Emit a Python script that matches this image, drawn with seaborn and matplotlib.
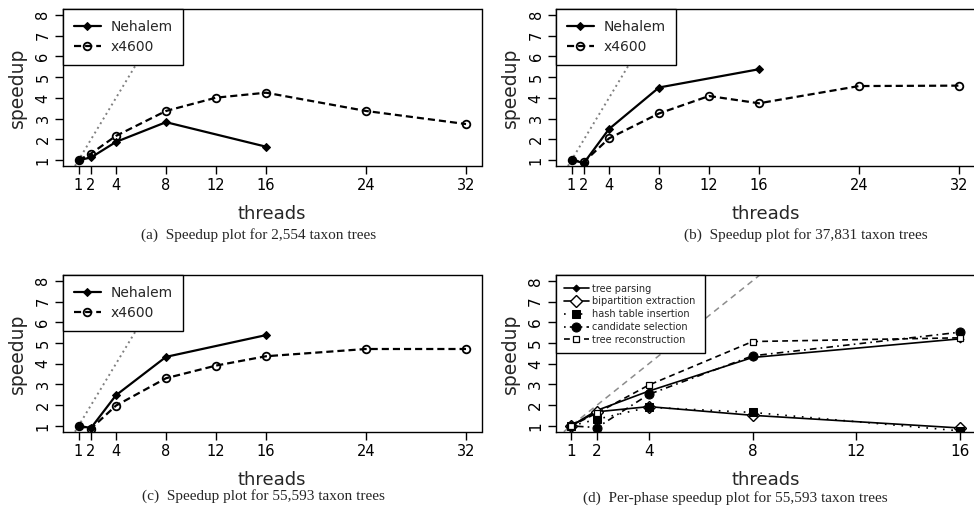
import matplotlib
matplotlib.use('Agg')
import matplotlib.pyplot as plt
import seaborn as sns

# thread counts
threads_nehalem = [1, 2, 4, 8, 16]
threads_x4600 = [1, 2, 4, 8, 12, 16, 24, 32]
xticks_32 = [1, 2, 4, 8, 12, 16, 24, 32]
xticks_16 = [1, 2, 4, 8, 12, 16]
yticks = [1, 2, 3, 4, 5, 6, 7, 8]

# speedups per data set
nehalem_2554 = [1.0, 1.13, 1.88, 2.83, 1.65]
x4600_2554 = [1.0, 1.32, 2.17, 3.37, 4.01, 4.25, 3.37, 2.74]
nehalem_37831 = [1.0, 0.87, 2.5, 4.5, 5.38]
x4600_37831 = [1.0, 0.92, 2.05, 3.25, 4.09, 3.74, 4.57, 4.59]
nehalem_55593 = [1.0, 0.9, 2.48, 4.33, 5.38]
x4600_55593 = [1.0, 0.87, 1.98, 3.3, 3.91, 4.36, 4.71, 4.71]

# per-phase speedups, 55,593 taxa
phase_threads = [1, 2, 4, 8, 16]
tree_parsing = [1.0, 1.75, 2.68, 4.3, 5.2]
bipartition = [1.0, 1.68, 1.93, 1.51, 0.9]
hash_insert = [1.0, 1.32, 1.9, 1.65, 0.76]
candidate = [1.0, 0.92, 2.52, 4.38, 5.52]
reconstruction = [1.0, 1.62, 2.97, 5.07, 5.25]

captions = [
    "(a)  Speedup plot for 2,554 taxon trees",
    "(b)  Speedup plot for 37,831 taxon trees",
    "(c)  Speedup plot for 55,593 taxon trees",
    "(d)  Per-phase speedup plot for 55,593 taxon trees",
]

sns.set_style('ticks')
plt.rcParams['font.family'] = ['DejaVu Sans']

W, H = 974, 519
fig = plt.figure(figsize=(W / 100, H / 100), dpi=100)


def make_axes(left, right, top, bottom):
    return fig.add_axes([left / W, 1 - bottom / H, (right - left) / W, (bottom - top) / H])


def style_axes(ax, xticks, xlim, tick_fs):
    ax.set_xlim(*xlim)
    ax.set_ylim(0.72, 8.28)
    ax.set_xticks(xticks)
    ax.set_yticks(yticks)
    ax.tick_params(axis='both', direction='out', length=6, width=1, colors='black',
                   labelsize=tick_fs, pad=3)
    ax.tick_params(axis='y', labelrotation=90)
    for lab in ax.get_yticklabels():
        lab.set_va('center')
    for s in ax.spines.values():
        s.set_visible(True)
        s.set_color('black')
        s.set_linewidth(1.0)
    ax.set_xlabel('threads', fontsize=13, labelpad=8.5)
    ax.set_ylabel('speedup', fontsize=13.5, labelpad=6)
    ax.set_facecolor('white')


def speedup_panel(ax, neh, x46, caption, cx, cy):
    ax.axline((threads_nehalem[0], neh[0]), slope=1, color='#808080', lw=1.4,
              linestyle=(0, (1, 1.8)), zorder=1)
    sns.lineplot(x=threads_nehalem, y=neh, ax=ax, color='black', lw=1.6,
                 marker='D', markersize=4, markeredgecolor='black',
                 label='Nehalem', zorder=3)
    sns.lineplot(x=threads_x4600, y=x46, ax=ax, color='black', lw=1.6,
                 linestyle=(0, (3.2, 1.8)), marker='o', markersize=5.5,
                 markerfacecolor='none', markeredgecolor='black', markeredgewidth=1.3,
                 label='x4600', zorder=3)
    style_axes(ax, xticks_32, (-0.24, 33.24), 10.5)
    leg = ax.legend(loc='upper left', borderaxespad=0, fancybox=False, framealpha=1,
                    edgecolor='black', fontsize=10, handlelength=1.9,
                    handletextpad=0.7, borderpad=0.8, labelspacing=0.4)
    leg.get_frame().set_linewidth(1.0)
    leg.set_zorder(5)
    fig.text(cx / W, 1 - cy / H, caption, ha='center', va='center',
             family='Liberation Serif', fontsize=11)


ax_a = make_axes(63, 481.5, 9, 166)
speedup_panel(ax_a, nehalem_2554, x4600_2554, captions[0], 259, 235)

ax_b = make_axes(556, 974.5, 9, 166)
speedup_panel(ax_b, nehalem_37831, x4600_37831, captions[1], 806, 235)

ax_c = make_axes(63, 481.5, 275, 431.7)
speedup_panel(ax_c, nehalem_55593, x4600_55593, captions[2], 263, 496)

# per-phase panel
ax_d = make_axes(555.5, 975.5, 275, 431.7)
ax_d.axline((phase_threads[0], tree_parsing[0]), slope=1, color='#8c8c8c', lw=1.1,
            linestyle=(0, (4, 3)), zorder=1)
lw = 1.2
sns.lineplot(x=phase_threads, y=tree_parsing, ax=ax_d, color='black', lw=lw,
             marker='D', markersize=3.5, markeredgecolor='black', label='tree parsing', zorder=3)
sns.lineplot(x=phase_threads, y=bipartition, ax=ax_d, color='black', lw=lw,
             marker='D', markersize=6.5, markerfacecolor='white', markeredgecolor='black',
             markeredgewidth=1.0, label='bipartition extraction', zorder=3)
sns.lineplot(x=phase_threads, y=hash_insert, ax=ax_d, color='black', lw=lw,
             linestyle=(0, (1, 4)), marker='s', markersize=6, markeredgecolor='black',
             label='hash table insertion', zorder=3)
sns.lineplot(x=phase_threads, y=candidate, ax=ax_d, color='black', lw=lw,
             linestyle=(0, (1, 2.5, 4, 2.5)), marker='o', markersize=6.5,
             markeredgecolor='black', label='candidate selection', zorder=3)
sns.lineplot(x=phase_threads, y=reconstruction, ax=ax_d, color='black', lw=lw,
             linestyle=(0, (3.5, 2.5)), marker='s', markersize=4.5, markerfacecolor='white',
             markeredgecolor='black', markeredgewidth=0.9, label='tree reconstruction', zorder=3)
style_axes(ax_d, xticks_16, (0.4, 16.6), 11)
leg = ax_d.legend(loc='upper left', borderaxespad=0, fancybox=False, framealpha=1,
                  edgecolor='black', fontsize=7, handlelength=2.5, handletextpad=0.4,
                  borderpad=0.9, labelspacing=0.28)
leg.get_frame().set_linewidth(1.0)
leg.set_zorder(5)
fig.text(735 / W, 1 - 498 / H, captions[3], ha='center', va='center',
         family='Liberation Serif', fontsize=11)

fig.savefig('out.png', dpi=100, facecolor='white')
